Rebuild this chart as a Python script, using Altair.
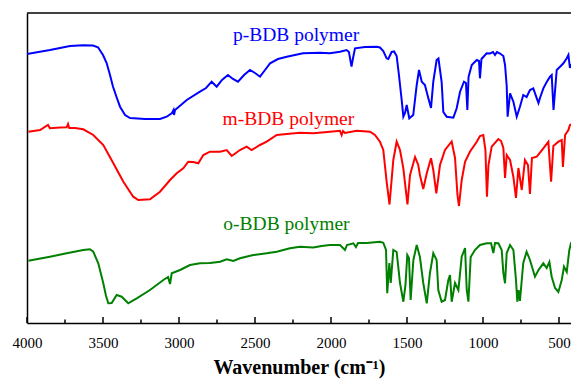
import altair as alt
import pandas as pd

# ---- data (wavenumber in cm-1, transmittance a.u.) ----
p_wn = [4000, 3849, 3717, 3632, 3566, 3533, 3500, 3476, 3454, 3434, 3411, 3388, 3355, 3322, 3224, 3125,
        3081, 3046, 3036, 3033, 3026, 2949, 2862, 2822, 2785, 2752, 2717, 2678, 2645, 2612, 2572, 2533,
        2500, 2467, 2434, 2401, 2349, 2291, 2184, 2072, 2007, 1941, 1897, 1882, 1865, 1855, 1842, 1776,
        1699, 1678, 1656, 1634, 1623, 1601, 1585, 1568, 1553, 1535, 1524, 1513, 1502, 1485, 1459, 1436,
        1421, 1403, 1382, 1360, 1342, 1327, 1305, 1293, 1272, 1261, 1239, 1195, 1173, 1151, 1125, 1112,
        1103, 1095, 1074, 1041, 1026, 1020, 1010, 976, 954, 934, 921, 908, 888, 866, 855, 844, 838, 822,
        800, 778, 757, 735, 713, 691, 669, 646, 635, 625, 603, 581, 559, 548, 536, 515, 493, 471, 449,
        438, 428, 421, 400]
p_t = [269, 273, 277, 277.7, 277.5, 275.7, 268, 260, 248, 236.3, 226, 216.3, 208, 205, 204, 204,
       206.3, 210, 213, 208, 213, 223, 231.3, 235, 241.3, 236.3, 243, 248, 244, 241.3, 248, 253,
       250, 246.3, 253, 259.7, 264, 266.3, 269.7, 270.3, 269.7, 271.3, 273, 271, 256.3, 265, 274.7, 276,
       276.3, 275.5, 272, 264.7, 264, 271, 271.5, 267, 248, 223, 206.3, 210, 218, 204.7, 208, 238,
       253, 241.3, 238, 225, 215, 241.3, 263, 264.5, 241, 211, 206.3, 205.3, 214.7, 231.3, 241.3, 240,
       213, 246, 258, 263, 262, 244.7, 264, 269.7, 269.5, 271, 268, 271, 269.5, 267, 258, 237, 206.3, 229.7,
       221.3, 206.3, 216.3, 228, 226, 233, 234.7, 224.7, 220, 225, 234.7, 241, 246.3, 248, 213, 253, 256.3, 259.7, 264.7,
       268, 255, 258, 258]

m_wn = [3991, 3914, 3862, 3849, 3783, 3739, 3730, 3722, 3684, 3630, 3564, 3498, 3432, 3366, 3301, 3268,
        3191, 3125, 3059, 3015, 2972, 2939, 2906, 2873, 2840, 2796, 2730, 2686, 2653, 2599, 2555, 2522,
        2467, 2423, 2357, 2291, 2204, 2116, 2007, 1941, 1930, 1921, 1908, 1831, 1743, 1711, 1678, 1656,
        1634, 1615, 1590, 1568, 1546, 1524, 1497, 1480, 1447, 1426, 1415, 1393, 1370, 1342, 1327, 1307,
        1283, 1250, 1206, 1184, 1168, 1158, 1140, 1118, 1086, 1041, 1020, 998, 984, 974, 964, 943, 899,
        881, 866, 855, 844, 822, 800, 783, 767, 745, 724, 704, 691, 678, 646, 603, 570, 552, 537, 504,
        482, 474, 460, 438, 428, 400]
m_t = [191.3, 193, 198, 194.7, 195.5, 195.7, 199, 195, 195, 193.7, 188, 178, 159.7, 141.3, 126.3, 123,
       123.7, 131.3, 143, 149.7, 154.7, 161.3, 161, 159.7, 168, 171.3, 171.3, 173, 167, 173, 176.3, 173,
       178, 181.3, 188, 189, 190.3, 189.7, 191.3, 192.3, 188, 192, 190, 192.3, 191.3, 188, 181.3, 173,
       141.3, 118.5, 163, 181.3, 173, 154.7, 118.5, 148, 166, 158, 148, 134, 149.7, 164.7, 153, 129.7,
       158, 173, 181.5, 165, 128, 117, 143, 161.3, 171.3, 181.3, 187, 188, 173, 126.3, 158, 176.3, 184,
       182, 175, 145, 168, 163, 146, 125, 155, 133, 163, 158, 129, 165, 166.3, 174.7, 181.3, 141.3, 177, 181.3,
       183, 156, 188, 193, 198, 200]

o_wn = [3991, 3849, 3739, 3630, 3586, 3564, 3531, 3498, 3480, 3465, 3443, 3410, 3377, 3334, 3278, 3191,
        3103, 3072, 3059, 3048, 2993, 2928, 2862, 2796, 2730, 2686, 2643, 2599, 2511, 2423, 2357, 2270,
        2204, 2118, 2061, 2007, 1941, 1908, 1895, 1853, 1836, 1822, 1765, 1678, 1656, 1638, 1630, 1616,
        1607, 1590, 1568, 1546, 1524, 1510, 1498, 1487, 1476, 1458, 1436, 1415, 1393, 1370, 1349, 1327,
        1305, 1294, 1272, 1250, 1228, 1217, 1206, 1184, 1162, 1140, 1118, 1107, 1096, 1081, 1053, 1020,
        976, 947, 932, 921, 899, 877, 866, 855, 844, 822, 800, 783, 774, 766, 757, 735, 713, 691, 658,
        635, 603, 581, 563, 548, 526, 504, 482, 467, 449, 432, 421, 400]
o_t = [62.3, 66.3, 69.7, 73, 73.7, 71.3, 59.7, 39.7, 27, 19.7, 20, 28, 26.3, 19.7, 24.7, 33,
       43, 46, 39, 49.7, 53, 58, 59.7, 60, 61.3, 63.7, 62, 64.7, 68, 69.7, 71.3, 74.7,
       76.3, 75.5, 77, 78, 78, 73, 78, 79.7, 76, 80, 80, 81.3, 80.3, 73, 29.7, 60,
       40, 73, 71, 40, 21.3, 38, 68, 65, 23, 63, 78, 66, 40, 19.7, 50, 69.7,
       63, 33, 21.3, 23, 43, 48, 21.3, 40, 33, 66.3, 75, 33, 21.3, 66, 73, 78,
       79.7, 79.7, 70, 80, 79.7, 73, 50, 39.7, 70, 78, 73, 43, 21.3, 33, 22, 60, 71.3, 63, 46.3,
       53, 59.7, 55, 61, 46.3, 35, 31, 43, 56.3, 51, 73, 79.7, 84]

series_names = ["p-BDB polymer", "m-BDB polymer", "o-BDB polymer"]
series_colors = ["#0000ff", "#ff0000", "#008000"]

# label anchor positions (wavenumber, transmittance of baseline)
label_wn = [2230, 2280, 2293]
label_t = [282, 198, 93]

major_ticks = [4000, 3500, 3000, 2500, 2000, 1500, 1000, 500]
minor_ticks = [3750, 3250, 2750, 2250, 1750, 1250, 750]

SERIF = "Liberation Serif"

# ---- build tables ----
rows = []
for name, wn, t in zip(series_names, [p_wn, m_wn, o_wn], [p_t, m_t, o_t]):
    for i, (a, b) in enumerate(zip(wn, t)):
        rows.append({"wn": a, "T": b, "series": name, "idx": i})
df = pd.DataFrame(rows)
lab = pd.DataFrame({"wn": label_wn, "T": label_t, "series": series_names})
ticks = pd.DataFrame({"wn": major_ticks + minor_ticks,
                      "kind": ["major"] * len(major_ticks) + ["minor"] * len(minor_ticks)})

W, H = 544, 310
xscale = alt.Scale(domain=[4000, 421], nice=False, zero=False)
yscale = alt.Scale(domain=[0, 310], nice=False, zero=False)
color = alt.Color("series:N", scale=alt.Scale(domain=series_names, range=series_colors), legend=None)

lines = alt.Chart(df).mark_line(strokeWidth=2, clip=True).encode(
    x=alt.X("wn:Q", scale=xscale,
            axis=alt.Axis(values=major_ticks, format="d", tickSize=0, labelPadding=12, labelFont=SERIF,
                          labelFontSize=15, labelColor="black", domainColor="black", domainWidth=1.5,
                          grid=False, labelFlush=False, labelOverlap=False,
                          title="Wavenumber (cm⁻¹)", titleFont=SERIF, titleFontSize=20,
                          titleFontWeight="bold", titleColor="black", titlePadding=7)),
    y=alt.Y("T:Q", scale=yscale,
            axis=alt.Axis(labels=False, ticks=False, grid=False, title=None,
                          domainColor="black", domainWidth=1.5)),
    color=color,
    order="idx:Q",
)

texts = alt.Chart(lab).mark_text(font=SERIF, fontSize=19.5, baseline="alphabetic",
                                 align="center").encode(
    x=alt.X("wn:Q", scale=xscale), y=alt.Y("T:Q", scale=yscale), text="series:N", color=color)

tick_major = alt.Chart(ticks).transform_filter(alt.datum.kind == "major").mark_rule(
    color="black", strokeWidth=1.5).encode(
    x=alt.X("wn:Q", scale=xscale), y=alt.value(H), y2=alt.value(H - 6))
tick_minor = alt.Chart(ticks).transform_filter(alt.datum.kind == "minor").mark_rule(
    color="black", strokeWidth=1.5).encode(
    x=alt.X("wn:Q", scale=xscale), y=alt.value(H), y2=alt.value(H - 3.5))

top_border = alt.Chart(pd.DataFrame({"a": [0]})).mark_rule(color="black", strokeWidth=1.5).encode(
    x=alt.value(0), x2=alt.value(W), y=alt.value(0))

chart = alt.layer(lines, texts, tick_major, tick_minor, top_border).properties(
    width=W, height=H,
    autosize=alt.AutoSizeParams(type="none"),
    padding={"left": 27, "top": 13, "right": 0, "bottom": 58},
    background="white",
).configure_view(stroke=None)

chart.save("out.html", embed_options={"renderer": "svg", "actions": False})
